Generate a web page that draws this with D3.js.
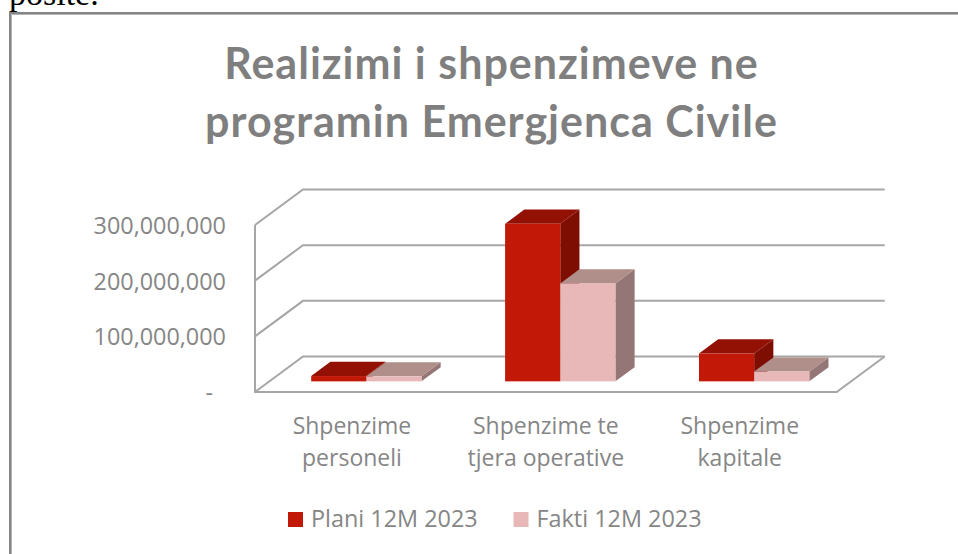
<!DOCTYPE html>
<html><head><meta charset="utf-8">
<style>html,body{margin:0;padding:0;background:#fff}svg{display:block}text{font-family:"Open Sans",sans-serif}</style>
<script src="https://cdn.jsdelivr.net/npm/d3@7/dist/d3.min.js"></script>
</head><body><svg id="c" width="958" height="554"></svg>
<script>
const categories=[["Shpenzime","personeli"],["Shpenzime te","tjera operative"],["Shpenzime","kapitale"]];
const seriesNames=["Plani 12M 2023","Fakti 12M 2023"];
const plani=[9.5e6,283e6,50e6];
const fakti=[9e6,176e6,17.5e6];
const tickValues=[0,100e6,200e6,300e6];
const tickLabels=["-","100,000,000","200,000,000","300,000,000"];
const titleLines=["Realizimi i shpenzimeve ne","programin Emergjenca Civile"];
const colors=[{f:"#c21807",t:"#931004",s:"#7e0d02"},{f:"#e8b7b7",t:"#b08e8a",s:"#957676"}];
const grey="#a6a6a6",textGrey="#7f7f7f",labelGrey="#868686";

const svg=d3.select("#c");
// page fragment and chart frame
svg.append("text").attr("x",9).attr("y",5).attr("font-size",34).style("font-family","'Liberation Serif',serif").attr("fill","#000").text("posite.");
svg.append("path").attr("d","M11.5,554V14.5H958").attr("fill","none").attr("stroke","#b4b4b4").attr("stroke-width",1);
svg.append("path").attr("d","M10,554V13H958").attr("fill","none").attr("stroke","#858585").attr("stroke-width",2);

svg.append("g").selectAll("text").data(titleLines).join("text")
 .attr("x",491.5).attr("y",(d,i)=>78.5+i*58.5).attr("text-anchor","middle")
 .attr("font-size",43).attr("letter-spacing",1).attr("font-weight",700).attr("fill",textGrey).style("font-family","Lato,sans-serif").text(d=>d);

// 3D projection
const x=d3.scaleBand().domain(d3.range(categories.length)).range([255,836.7]).paddingInner(.431).paddingOuter(.2155);
const sub=d3.scaleBand().domain([0,1]).range([0,x.bandwidth()]);
const y=d3.scaleLinear().domain([0,300e6]).range([392,225]);
const depthX=48,depthY=-35.5;
const bar0=.3,bar1=.7;
const px=(a,d)=>a+d*depthX, py=(b,d)=>b+d*depthY;

// walls
const g=svg.append("g").attr("fill","none").attr("stroke",grey).attr("stroke-width",2);
tickValues.forEach(v=>{
  g.append("path").attr("d",`M${px(255,0)},${y(v)}L${px(255,1)},${py(y(v),1)}H${px(836.7,1)}`);
});
g.append("path").attr("d",`M255,${y(300e6)}V392H836.7L${px(836.7,1)},${py(392,1)}`);

// bars
function bar(cat,ser,val){
  const xa=x(cat)+sub(ser)+depthX*bar0, w=sub.bandwidth();
  const yb=y(0)+depthY*bar0, h=y(0)-y(val), yt=yb-h;
  const dx=depthX*(bar1-bar0), dy=depthY*(bar1-bar0), c=colors[ser];
  const b=svg.append("g");
  b.append("path").attr("fill",c.s).attr("d",`M${xa+w},${yb}L${xa+w+dx},${yb+dy}V${yt+dy}L${xa+w},${yt}Z`);
  b.append("path").attr("fill",c.t).attr("d",`M${xa},${yt}L${xa+dx},${yt+dy}H${xa+w+dx}L${xa+w},${yt}Z`);
  b.append("rect").attr("fill",c.f).attr("x",xa).attr("y",yt).attr("width",w).attr("height",h);
}
categories.forEach((c,i)=>{bar(i,0,plani[i]);bar(i,1,fakti[i]);});

// y labels
svg.append("g").selectAll("text").data(tickValues).join("text")
 .attr("x",(d,i)=>i?226:213).attr("y",d=>y(d)+9).attr("text-anchor","end")
 .attr("font-size",23.4).attr("fill",labelGrey).text((d,i)=>tickLabels[i]);

// categories
categories.forEach((c,i)=>{
 svg.append("text").attr("text-anchor","middle").attr("font-size",23).attr("fill",labelGrey)
  .selectAll("tspan").data(c).join("tspan").attr("x",x(i)+x.bandwidth()/2).attr("y",(d,j)=>434+j*32).text(d=>d);
});

// legend
const lx=[288,513.5];
seriesNames.forEach((s,i)=>{
 svg.append("rect").attr("x",lx[i]).attr("y",512).attr("width",15).attr("height",15).attr("fill",colors[i].f);
 svg.append("text").attr("x",lx[i]+23).attr("y",527).attr("font-size",23.4).attr("fill",labelGrey).text(s);
});
</script></body></html>
